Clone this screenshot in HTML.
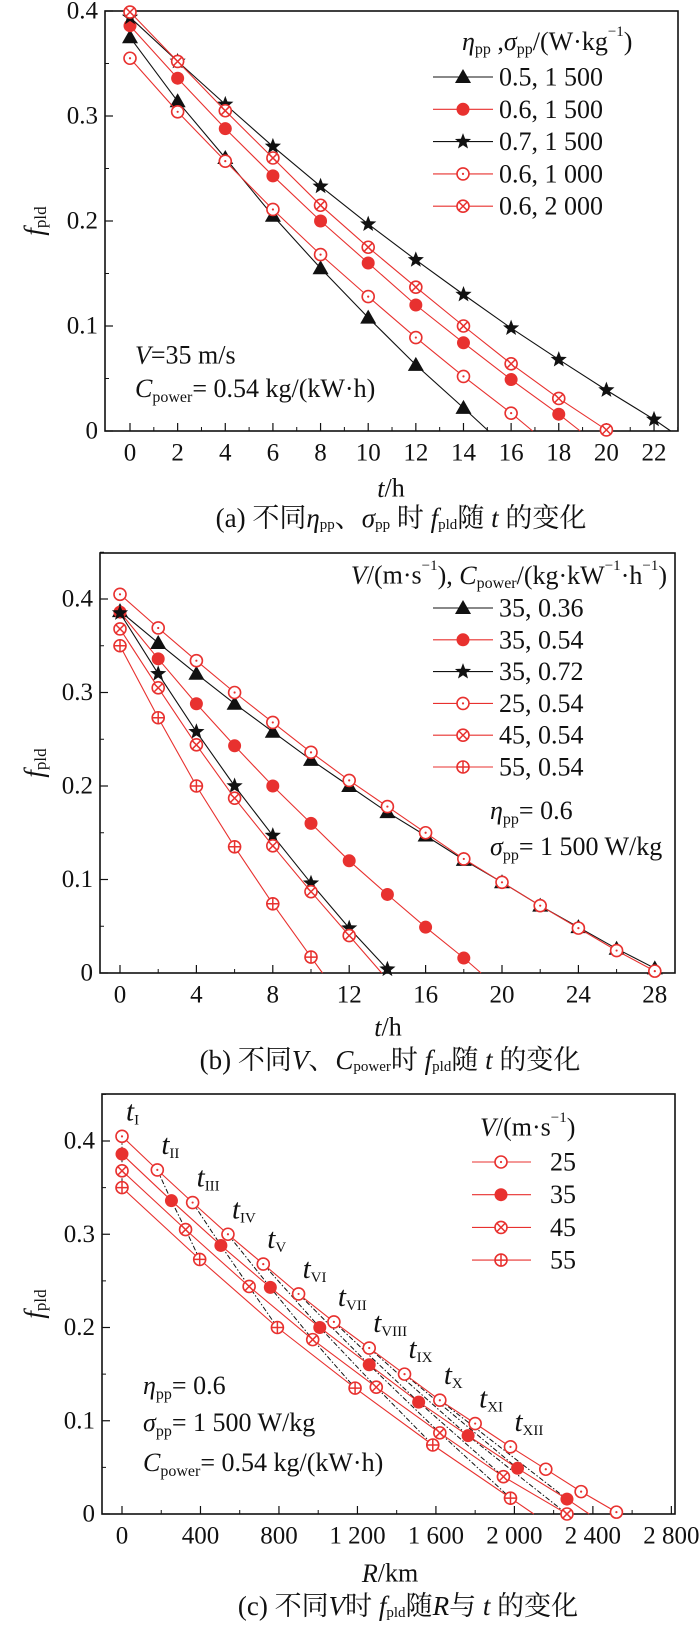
<!DOCTYPE html>
<html><head><meta charset="utf-8">
<style>
body{margin:0;background:#fff;}
svg{display:block;}
text{font-family:"Liberation Serif","Noto Serif CJK SC",serif;fill:#111;}
</style></head>
<body>
<svg id="fig" width="700" height="1627" viewBox="0 0 700 1627" xmlns="http://www.w3.org/2000/svg"></svg>
<script>
// ---- Panel (a) data ----
const aTimes = [0,2,4,6,8,10,12,14,16,18,20,22];
const aLabels = ['0.5, 1 500','0.6, 1 500','0.7, 1 500','0.6, 1 000','0.6, 2 000'];
const aTri = [0.375,0.314,0.26,0.205,0.155,0.108,0.063,0.022];
const aDisc = [0.386,0.336,0.288,0.243,0.2,0.16,0.12,0.084,0.049,0.016];
const aStar = [0.394,0.352,0.311,0.271,0.233,0.197,0.163,0.13,0.098,0.068,0.039,0.011];
const aDot = [0.355,0.304,0.257,0.211,0.168,0.128,0.089,0.052,0.017];
const aCross = [0.399,0.352,0.305,0.26,0.215,0.175,0.137,0.1,0.064,0.031,0.001];
const aEndT = [15.05,18.9,22.7,16.9,20.2];
const aXTicks = [0,2,4,6,8,10,12,14,16,18,20,22];
const aYTicks = [0,0.1,0.2,0.3,0.4];
// ---- Panel (b) data ----
const bTimes = [0,2,4,6,8,10,12,14,16,18,20,22,24,26,28];
const bLabels = ['35, 0.36','35, 0.54','35, 0.72','25, 0.54','45, 0.54','55, 0.54'];
const bTri = [0.387,0.353,0.32,0.288,0.258,0.228,0.2,0.172,0.147,0.121,0.097,0.072,0.049,0.026,0.005];
const bDisc = [0.386,0.336,0.288,0.243,0.2,0.16,0.12,0.084,0.049,0.016];
const bStar = [0.385,0.32,0.258,0.2,0.147,0.096,0.048,0.004];
const bDot = [0.405,0.369,0.334,0.3,0.268,0.236,0.206,0.178,0.15,0.122,0.097,0.072,0.048,0.024,0.002];
const bCross = [0.368,0.305,0.244,0.187,0.136,0.087,0.04];
const bPlus = [0.35,0.273,0.2,0.135,0.074,0.017];
const bEndT = [28.3,18.9,14.1,28.1,13.7,10.6];
const bXTicks = [0,4,8,12,16,20,24,28];
const bYTicks = [0,0.1,0.2,0.3,0.4];
// ---- Panel (c) data ----
const cSpeeds = [25,35,45,55];
const cLabels = ['25','35','45','55'];
const cF25 = [0.405,0.369,0.334,0.3,0.268,0.236,0.206,0.178,0.15,0.122,0.097,0.072,0.048,0.024,0.002];
const cF35 = [0.386,0.336,0.288,0.243,0.2,0.16,0.12,0.084,0.049,0.016];
const cF45 = [0.368,0.305,0.244,0.187,0.136,0.087,0.04,0.0];
const cF55 = [0.35,0.273,0.2,0.135,0.074,0.017];
const cEndT = [28.1,18.9,14.1,10.6];
const cTimeLabels = ['I','II','III','IV','V','VI','VII','VIII','IX','X','XI','XII'];
const cXTicks = [0,400,800,1200,1600,2000,2400,2800];
const cXTickLabels = ['0','400','800','1 200','1 600','2 000','2 400','2 800'];
const cYTicks = [0,0.1,0.2,0.3,0.4];

const NS='http://www.w3.org/2000/svg';
const svg=document.getElementById('fig');
const RED='#e8312f', BLK='#111';
const TICK=25, LEG=26, CAP=27;
function el(tag,attrs,parent){const e=document.createElementNS(NS,tag);for(const k in attrs)e.setAttribute(k,attrs[k]);(parent||svg).appendChild(e);return e;}
function txt(x,y,html,size,anchor,parent){const t=el('text',{x:x,y:y,'font-size':size,'text-anchor':anchor||'start','dominant-baseline':'central'},parent);t.innerHTML=html;return t;}

function marker(g,type,x,y,col){
  if(type==='tri'){el('polygon',{points:`${x},${y-8} ${x-8},${y+6} ${x+8},${y+6}`,fill:BLK},g);}
  else if(type==='disc'){el('circle',{cx:x,cy:y,r:6.5,fill:RED},g);}
  else if(type==='star'){let p=[];for(let i=0;i<10;i++){const r=i%2?3.6:8.5,a=-Math.PI/2+i*Math.PI/5;p.push((x+r*Math.cos(a)).toFixed(1)+','+(y+r*Math.sin(a)).toFixed(1));}el('polygon',{points:p.join(' '),fill:BLK},g);}
  else{el('circle',{cx:x,cy:y,r:6,fill:'#fff',stroke:RED,'stroke-width':1.6},g);
    if(type==='dot')el('circle',{cx:x,cy:y,r:1.1,fill:RED},g);
    if(type==='cross'){el('path',{d:`M${x-4.2} ${y-4.2}L${x+4.2} ${y+4.2}M${x+4.2} ${y-4.2}L${x-4.2} ${y+4.2}`,stroke:RED,'stroke-width':1.5},g);}
    if(type==='plus'){el('path',{d:`M${x-6} ${y}L${x+6} ${y}M${x} ${y-6}L${x} ${y+6}`,stroke:RED,'stroke-width':1.5},g);}
  }
}

function frame(P,name){
  const g=el('g',{});
  
  
  el('rect',{x:P.L,y:P.T,width:P.R-P.L,height:P.B-P.T,fill:'none',stroke:BLK,'stroke-width':1.6},g);
  P.xt.forEach((v,i)=>{const x=P.sx(v);el('line',{x1:x,y1:P.B,x2:x,y2:P.B-8,stroke:BLK,'stroke-width':1.2},g);
    const t=txt(x,P.B+22,P.xl?P.xl[i]:String(v),TICK,'middle',g);
    
    });
  P.xm.forEach(v=>{const x=P.sx(v);el('line',{x1:x,y1:P.B,x2:x,y2:P.B-4,stroke:BLK,'stroke-width':1},g);});
  P.yt.forEach(v=>{const y=P.sy(v);el('line',{x1:P.L,y1:y,x2:P.L+8,y2:y,stroke:BLK,'stroke-width':1.2},g);
    const t=txt(P.L-7,y,String(v),TICK,'end',g);
    
    });
  for(let v=0.05;v<P.ymax;v+=0.1){const y=P.sy(v);el('line',{x1:P.L,y1:y,x2:P.L+4,y2:y,stroke:BLK,'stroke-width':1},g);}
  const yl=txt(0,0,'<tspan font-style="italic">f</tspan><tspan font-size="17" dy="6">pld</tspan>',27,'middle',g);
  yl.setAttribute('transform',`translate(34,${(P.T+P.B)/2}) rotate(-90)`);
  
  
}

function series(P,xs,ys,endX,type,col,name){
  const g=el('g',{});
  
  
  let pts=xs.slice(0,ys.length).map((x,i)=>P.sx(x).toFixed(1)+','+P.sy(ys[i]).toFixed(1));
  pts.push(P.sx(endX).toFixed(1)+','+P.sy(0).toFixed(1));
  el('polyline',{points:pts.join(' '),fill:'none',stroke:col,'stroke-width':1.1},g);
  ys.forEach((v,i)=>marker(g,type,P.sx(xs[i]),P.sy(v),col));
}

function legendRow(x,y,type,col,label,name){
  const g=el('g',{});
  
  
  el('line',{x1:x,y1:y,x2:x+60,y2:y,stroke:col,'stroke-width':1.1},g);
  marker(g,type,x+30,y,col);
  txt(x+66,y,label,LEG,'start',g);
}

const types=['tri','disc','star','dot','cross','plus'];
const cols=[BLK,RED,BLK,RED,RED,RED];

// ---------- Panel (a) ----------
const A={L:105,R:678,T:11,B:431,ymax:0.4};
A.sx=t=>130+t*23.82; A.sy=v=>A.B-v*1050;
A.xt=aXTicks; A.xm=[1,3,5,7,9,11,13,15,17,19,21,23];A.yt=aYTicks;
frame(A,'panel-a');
[aTri,aDisc,aStar,aDot,aCross].forEach((s,i)=>series(A,aTimes,s,aEndT[i],types[i],cols[i],'series-a-'+i));
{const t=txt(462,41,'<tspan font-style="italic">η</tspan><tspan font-size="16" dy="8">pp</tspan><tspan dy="-8"> ,</tspan><tspan font-style="italic">σ</tspan><tspan font-size="16" dy="8">pp</tspan><tspan dy="-8">/(W·kg</tspan><tspan font-size="15" dy="-9">−1</tspan><tspan dy="9">)</tspan>',LEG,'start');
}
aLabels.forEach((l,i)=>legendRow(433,77+i*32.3,types[i],cols[i],l,'legend-entry-a-'+i));
{const t=txt(135,355,'<tspan font-style="italic">V</tspan>=35 m/s',LEG);
const t2=txt(135,388,'<tspan font-style="italic">C</tspan><tspan font-size="16" dy="9">power</tspan><tspan dy="-9">= 0.54 kg/(kW·h)</tspan>',LEG);
const t3=txt(391,488,'<tspan font-style="italic">t</tspan>/h',LEG,'middle');
const t4=txt(401,518,'(a) 不同<tspan font-style="italic">η</tspan><tspan font-size="15" dy="7">pp</tspan><tspan dy="-7">、</tspan><tspan font-style="italic">σ</tspan><tspan font-size="15" dy="7">pp</tspan><tspan dy="-7"> 时 </tspan><tspan font-style="italic">f</tspan><tspan font-size="15" dy="7">pld</tspan><tspan dy="-7">随 </tspan><tspan font-style="italic">t</tspan> 的变化',CAP,'middle');}

// ---------- Panel (b) ----------
const B={L:100,R:675,T:553,B:973,ymax:0.45};
B.sx=t=>120+t*19.1; B.sy=v=>B.B-v*935;
B.xt=bXTicks; B.xm=[2,6,10,14,18,22,26];B.yt=bYTicks;
frame(B,'panel-b');
[bTri,bDisc,bStar,bDot,bCross,bPlus].forEach((s,i)=>series(B,bTimes,s,bEndT[i],types[i],cols[i],'series-b-'+i));
{const t=txt(667,575,'<tspan font-style="italic">V</tspan>/(m·s<tspan font-size="15" dy="-9">−1</tspan><tspan dy="9">), </tspan><tspan font-style="italic">C</tspan><tspan font-size="16" dy="8">power</tspan><tspan dy="-8">/(kg·kW</tspan><tspan font-size="15" dy="-9">−1</tspan><tspan dy="9">·h</tspan><tspan font-size="15" dy="-9">−1</tspan><tspan dy="9">)</tspan>',LEG,'end');
}
bLabels.forEach((l,i)=>legendRow(433,608+i*31.8,types[i],cols[i],l,'legend-entry-b-'+i));
{const t=txt(490,810,'<tspan font-style="italic">η</tspan><tspan font-size="16" dy="9">pp</tspan><tspan dy="-9">= 0.6</tspan>',LEG);
const t2=txt(490,846,'<tspan font-style="italic">σ</tspan><tspan font-size="16" dy="9">pp</tspan><tspan dy="-9">= 1 500 W/kg</tspan>',LEG);
const t3=txt(388,1027,'<tspan font-style="italic">t</tspan>/h',LEG,'middle');
const t4=txt(390,1060,'(b) 不同<tspan font-style="italic">V</tspan>、<tspan font-style="italic">C</tspan><tspan font-size="15" dy="7">power</tspan><tspan dy="-7">时 </tspan><tspan font-style="italic">f</tspan><tspan font-size="15" dy="7">pld</tspan><tspan dy="-7">随 </tspan><tspan font-style="italic">t</tspan> 的变化',CAP,'middle');}

// ---------- Panel (c) ----------
const C={L:102,R:675,T:1094,B:1514,ymax:0.45};
C.sx=r=>122+r*0.1962; C.sy=v=>C.B-v*932.5;
C.xt=cXTicks; C.xl=cXTickLabels; C.xm=[200,600,1000,1400,1800,2200,2600];C.yt=cYTicks;
frame(C,'panel-c');
const cF=[cF25,cF35,cF45,cF55], cTypes=['dot','disc','cross','plus'];
{const g=el('g',{});
for(let k=0;k<cTimeLabels.length;k++){const pts=[];cF.forEach((s,j)=>{if(k<s.length)pts.push(C.sx(cSpeeds[j]*3.6*aTimes[k]).toFixed(1)+','+C.sy(s[k]).toFixed(1));});
 if(pts.length>1)el('polyline',{points:pts.join(' '),fill:'none',stroke:BLK,'stroke-width':1,'stroke-dasharray':'5 2 1.5 2'},g);}}
cF.forEach((s,j)=>{const rs=bTimes.map(t=>cSpeeds[j]*3.6*t);series(C,rs,s,cSpeeds[j]*3.6*cEndT[j],cTypes[j],RED,'series-c-'+cLabels[j]);});
cTimeLabels.forEach((l,k)=>{const x=C.sx(cSpeeds[0]*3.6*aTimes[k]),y=C.sy(cF25[k]);
 const t=txt(x+4,y-25,'<tspan font-style="italic">t</tspan><tspan font-size="15" dy="9">'+l+'</tspan>',29);
 });
{const t=txt(480,1127,'<tspan font-style="italic">V</tspan>/(m·s<tspan font-size="15" dy="-9">−1</tspan><tspan dy="9">)</tspan>',LEG);}
cLabels.forEach((l,i)=>{const g=el('g',{});
 const y=1162+i*32.7;el('line',{x1:472,y1:y,x2:531,y2:y,stroke:RED,'stroke-width':1.1},g);marker(g,cTypes[i],501,y,RED);txt(550,y,l,LEG,'start',g);});
{const t=txt(143,1385,'<tspan font-style="italic">η</tspan><tspan font-size="16" dy="9">pp</tspan><tspan dy="-9">= 0.6</tspan>',LEG);
const t2=txt(143,1422,'<tspan font-style="italic">σ</tspan><tspan font-size="16" dy="9">pp</tspan><tspan dy="-9">= 1 500 W/kg</tspan>',LEG);
const t5=txt(143,1462,'<tspan font-style="italic">C</tspan><tspan font-size="16" dy="9">power</tspan><tspan dy="-9">= 0.54 kg/(kW·h)</tspan>',LEG);
const t3=txt(390,1573,'<tspan font-style="italic">R</tspan>/km',LEG,'middle');
const t4=txt(408,1606,'(c) 不同<tspan font-style="italic">V</tspan>时 <tspan font-style="italic">f</tspan><tspan font-size="15" dy="7">pld</tspan><tspan dy="-7">随</tspan><tspan font-style="italic">R</tspan>与 <tspan font-style="italic">t</tspan> 的变化',CAP,'middle');}
</script>
</body></html>
